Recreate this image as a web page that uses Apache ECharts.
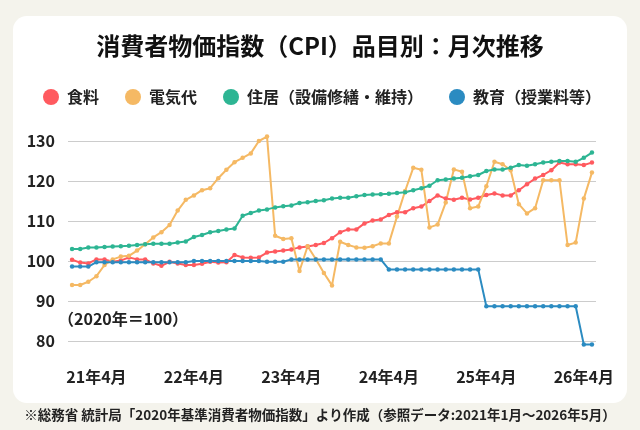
<!DOCTYPE html>
<html>
<head>
<meta charset="utf-8">
<script src="https://cdn.jsdelivr.net/npm/echarts@6/dist/echarts.min.js"></script>
<style>
html,body{margin:0;padding:0;background:#f4f3ec;}
#chart{width:640px;height:430px;}
</style>
</head>
<body>
<div id="chart"></div>
<script>
// 2021年1月〜2026年5月 の月次データ
var months = [];
for (var y = 21; y <= 26; y++) {
    for (var m = 1; m <= 12; m++) {
        if (y == 26 && m > 5) break;
        months.push(y + "年" + m + "月");
    }
}

var seriesNames = ["食料", "電気代", "住居（設備修繕・維持）", "教育（授業料等）"];
var seriesColors = ["#ff5a5f", "#f5b964", "#2db593", "#2b8bc1"];

var food = [
    100.3, 99.6, 99.4, 100.4, 100.4, 99.8, 100.1, 100.9, 100.4, 100.4, 99.4, 98.8,
    99.8, 99.4, 99.0, 99.0, 99.3, 99.8, 99.6, 99.7, 101.5, 100.9, 100.8, 100.9,
    102.1, 102.4, 102.6, 102.9, 103.4, 103.6, 104.0, 104.5, 105.7, 107.2, 107.9, 107.9,
    109.4, 110.1, 110.4, 111.5, 112.2, 112.2, 113.2, 113.6, 115.0, 116.4, 115.6, 115.3,
    115.8, 115.4, 115.8, 116.5, 116.9, 116.4, 116.4, 117.7, 119.2, 120.6, 121.5, 122.7,
    124.6, 124.2, 124.2, 124.0, 124.6
];
var electricity = [
    94.0, 94.0, 94.8, 96.2, 99.0, 100.4, 101.1, 101.3, 102.6, 104.2, 105.9, 107.2,
    109.0, 112.6, 115.3, 116.4, 117.7, 118.2, 120.7, 122.8, 124.7, 125.8, 126.9, 130.0,
    131.1, 106.3, 105.5, 105.7, 97.5, 103.7, 100.5, 97.0, 93.9, 104.8, 104.0, 103.4,
    103.3, 103.7, 104.4, 104.4, 111.1, 117.5, 123.3, 122.8, 108.4, 109.1, 114.6, 122.9,
    122.3, 113.2, 113.6, 118.7, 124.8, 124.2, 122.7, 114.2, 111.9, 113.2, 120.2, 120.2,
    120.2, 104.0, 104.6, 115.6, 122.1
];
var housing = [
    103.0, 103.0, 103.4, 103.4, 103.5, 103.6, 103.7, 103.8, 104.0, 104.2, 104.3, 104.3,
    104.3, 104.6, 104.9, 106.0, 106.5, 107.2, 107.5, 107.9, 108.1, 111.3, 112.0, 112.6,
    112.9, 113.4, 113.7, 113.9, 114.5, 114.7, 115.0, 115.2, 115.6, 115.8, 115.8, 116.2,
    116.5, 116.6, 116.7, 116.8, 117.0, 117.2, 117.7, 118.2, 118.8, 120.2, 120.4, 120.6,
    120.8, 121.2, 121.5, 122.5, 122.9, 122.9, 123.3, 124.0, 123.8, 124.2, 124.6, 124.8,
    125.0, 125.0, 124.8, 125.8, 127.1
];
var education = [
    98.6, 98.6, 98.6, 99.7, 99.7, 99.7, 99.7, 99.7, 99.7, 99.7, 99.7, 99.7,
    99.7, 99.7, 99.7, 100.0, 100.0, 100.0, 100.0, 100.0, 100.0, 100.0, 100.0, 100.0,
    99.8, 99.8, 99.8, 100.4, 100.4, 100.4, 100.4, 100.4, 100.4, 100.4, 100.4, 100.4,
    100.4, 100.4, 100.4, 97.9, 97.9, 97.9, 97.9, 97.9, 97.9, 97.9, 97.9, 97.9,
    97.9, 97.9, 97.9, 88.7, 88.7, 88.7, 88.7, 88.7, 88.7, 88.7, 88.7, 88.7,
    88.7, 88.7, 88.7, 79.1, 79.1
];
var yTicks = [80, 90, 100, 110, 120, 130];

var FONT = '"Noto Sans CJK JP", "Noto Sans", sans-serif';
var chart = echarts.init(document.getElementById("chart"));

var dataList = [food, electricity, housing, education];
var series = [];
for (var i = 0; i < dataList.length; i++) {
    series.push({
        name: seriesNames[i],
        type: "line",
        data: dataList[i],
        clip: false,
        symbol: "circle",
        symbolSize: 4.5,
        showSymbol: true,
        lineStyle: {width: 2, color: seriesColors[i]},
        itemStyle: {color: seriesColors[i]},
        animation: false
    });
}

var option = {
    backgroundColor: "#f4f3ec",
    textStyle: {fontFamily: FONT},
    graphic: [
        {
            type: "rect", left: 13, top: 16, z: -10,
            shape: {width: 614, height: 387, r: 14},
            style: {fill: "#ffffff"}
        },
        {
            type: "text", left: 58, top: 311,
            style: {text: "（2020年＝100）", font: "bold 16px " + FONT, fill: "#222"}
        },
        {
            type: "text", left: "center", top: 408,
            style: {text: "※総務省 統計局「2020年基準消費者物価指数」より作成（参照データ:2021年1月～2026年5月）",
                font: "bold 13.5px " + FONT, fill: "#222"}
        }
    ],
    title: {
        text: "消費者物価指数（CPI）品目別：月次推移",
        left: "center",
        top: 29,
        textStyle: {fontSize: 24, fontWeight: "bold", color: "#111", fontFamily: FONT}
    },
    legend: {
        data: seriesNames,
        left: 38,
        top: 84,
        icon: "circle",
        itemWidth: 16,
        itemHeight: 16,
        itemGap: 26,
        textStyle: {fontSize: 16, fontWeight: "bold", color: "#222", fontFamily: FONT,
            padding: [0, 0, 0, 3]}
    },
    grid: {left: 68, right: 44, top: 141, bottom: 89},
    xAxis: {
        type: "category",
        data: months,
        boundaryGap: true,
        axisLine: {show: false},
        axisTick: {show: false},
        axisLabel: {
            interval: function (idx) { return idx % 12 === 3; },
            margin: 28,
            fontSize: 16,
            fontWeight: "bold",
            color: "#222",
            fontFamily: FONT
        },
        splitLine: {show: false}
    },
    yAxis: {
        type: "value",
        min: yTicks[0],
        max: yTicks[yTicks.length - 1],
        interval: 10,
        axisLine: {show: false},
        axisTick: {show: false},
        axisLabel: {margin: 13, fontSize: 16, fontWeight: "bold", color: "#222", fontFamily: FONT},
        splitLine: {lineStyle: {color: "#cccccc", width: 1}}
    },
    series: series
};
chart.setOption(option);
</script>
</body>
</html>
